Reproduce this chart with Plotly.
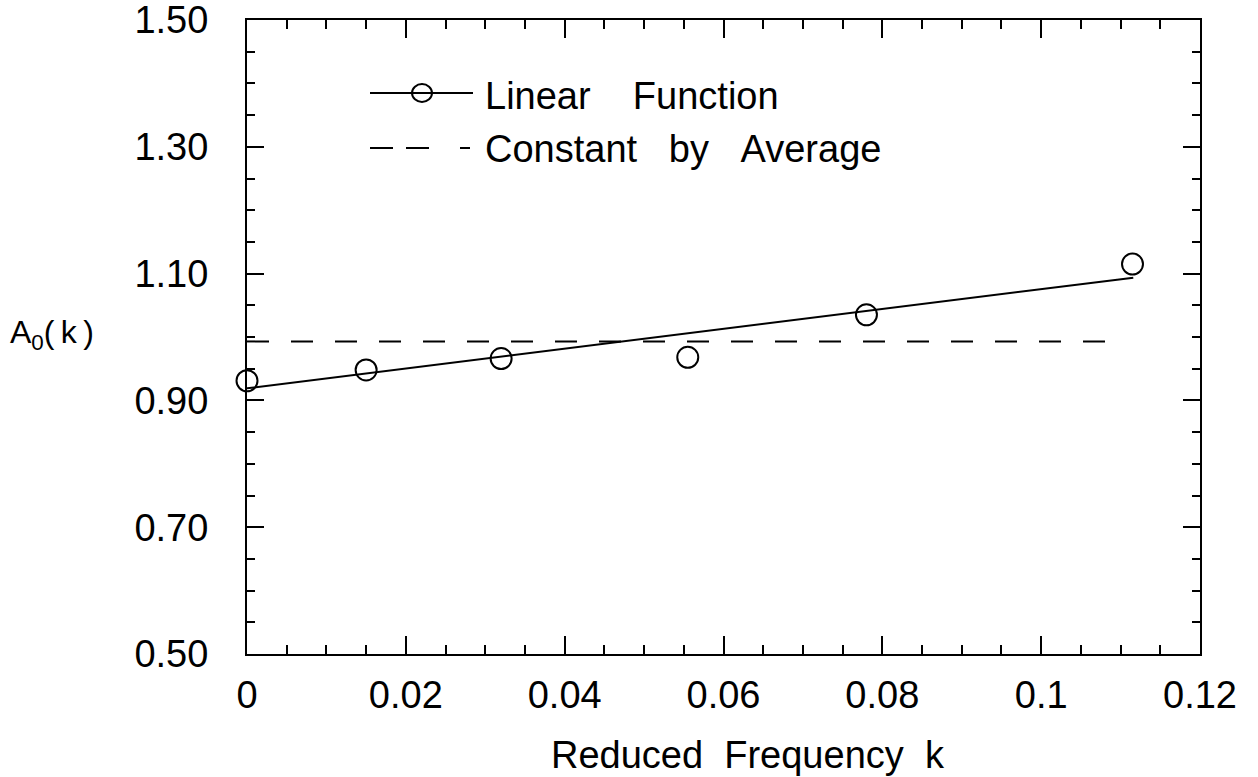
import plotly.graph_objects as go

# ---- data ----
k_points = [0.0, 0.015, 0.032, 0.0555, 0.078, 0.1115]
a0_points = [0.931, 0.948, 0.966, 0.968, 1.035, 1.115]

fit_k = [0.0, 0.1116]
fit_a0 = [0.919, 1.0935]

avg_k = [0.0, 0.109]
avg_a0 = [0.993, 0.993]

x_range = [0, 0.12]
y_range = [0.5, 1.5]
x_major, x_minor = 0.02, 0.005
y_major, y_minor = 0.2, 0.05

legend_labels = ["Linear\u00a0\u00a0\u00a0\u00a0Function", "Constant\u00a0\u00a0\u00a0by\u00a0\u00a0\u00a0Average"]
x_title = "Reduced\u00a0\u00a0Frequency\u00a0\u00a0k"
y_title = "A<sub>0</sub>(\u2009k\u2009)"

FONT = "Liberation Sans, Arial, Helvetica, sans-serif"
W, H = 1258, 777
L, R, T, B = 247, 58, 20, 123
PW, PH = W - L - R, H - T - B

def px(x):
    return (x - L) / PW

def py(y):
    return (H - B - y) / PH

fig = go.Figure()

fig.add_trace(go.Scatter(x=avg_k, y=avg_a0, mode="lines",
                         line=dict(color="black", width=2, dash="22px,22px"),
                         showlegend=False, hoverinfo="skip"))
fig.add_trace(go.Scatter(x=fit_k, y=fit_a0, mode="lines",
                         line=dict(color="black", width=2),
                         showlegend=False, hoverinfo="skip"))
fig.add_trace(go.Scatter(x=k_points, y=a0_points, mode="markers",
                         marker=dict(symbol="circle-open", size=21, color="black",
                                     line=dict(width=2, color="black")),
                         showlegend=False, cliponaxis=False))

axis_common = dict(showgrid=False, zeroline=False, showline=True, linecolor="black",
                   linewidth=2, mirror="ticks", ticks="inside", tickcolor="black",
                   tickwidth=2, tickmode="linear", ticklabeloverflow="allow",
                   tickfont=dict(family=FONT, size=38, color="black"))

fig.update_xaxes(range=x_range, tick0=0, dtick=x_major, ticklen=18,
                 ticklabelstandoff=6,
                 minor=dict(dtick=x_minor, tick0=0, ticks="inside", ticklen=9,
                            tickwidth=2, tickcolor="black", showgrid=False),
                 **axis_common)
fig.update_yaxes(range=y_range, tick0=0.5, dtick=y_major, tickformat=".2f", ticklen=17,
                 ticklabelstandoff=29,
                 minor=dict(dtick=y_minor, tick0=0.5, ticks="inside", ticklen=8,
                            tickwidth=2, tickcolor="black", showgrid=False),
                 **axis_common)

shapes = [
    # legend sample: line with open circle
    dict(type="line", xref="paper", yref="paper", x0=px(370), x1=px(473), y0=py(93), y1=py(93),
         line=dict(color="black", width=2)),
    dict(type="circle", xref="paper", yref="paper", x0=px(412), x1=px(432), y0=py(102), y1=py(84),
         line=dict(color="black", width=2)),
    # legend sample: dashes
    dict(type="line", xref="paper", yref="paper", x0=px(370), x1=px(393), y0=py(148), y1=py(148),
         line=dict(color="black", width=2)),
    dict(type="line", xref="paper", yref="paper", x0=px(406), x1=px(429), y0=py(148), y1=py(148),
         line=dict(color="black", width=2)),
    dict(type="line", xref="paper", yref="paper", x0=px(460), x1=px(470), y0=py(148), y1=py(148),
         line=dict(color="black", width=2)),
]

annotations = [
    dict(text=legend_labels[0], x=px(483), y=py(96), xref="paper", yref="paper",
         xanchor="left", yanchor="middle", showarrow=False,
         font=dict(family=FONT, size=38, color="black")),
    dict(text=legend_labels[1], x=px(483), y=py(149), xref="paper", yref="paper",
         xanchor="left", yanchor="middle", showarrow=False,
         font=dict(family=FONT, size=38, color="black")),
    dict(text=x_title, x=px(748), y=py(755), xref="paper", yref="paper",
         xanchor="center", yanchor="middle", showarrow=False,
         font=dict(family=FONT, size=38, color="black")),
    dict(text=y_title, x=px(8), y=py(334), xref="paper", yref="paper",
         xanchor="left", yanchor="middle", showarrow=False,
         font=dict(family=FONT, size=32, color="black")),
]

fig.update_layout(width=W, height=H, margin=dict(l=L, r=R, t=T, b=B, autoexpand=False),
                  paper_bgcolor="white", plot_bgcolor="white", showlegend=False,
                  shapes=shapes, annotations=annotations)

fig.write_html("out.html")
